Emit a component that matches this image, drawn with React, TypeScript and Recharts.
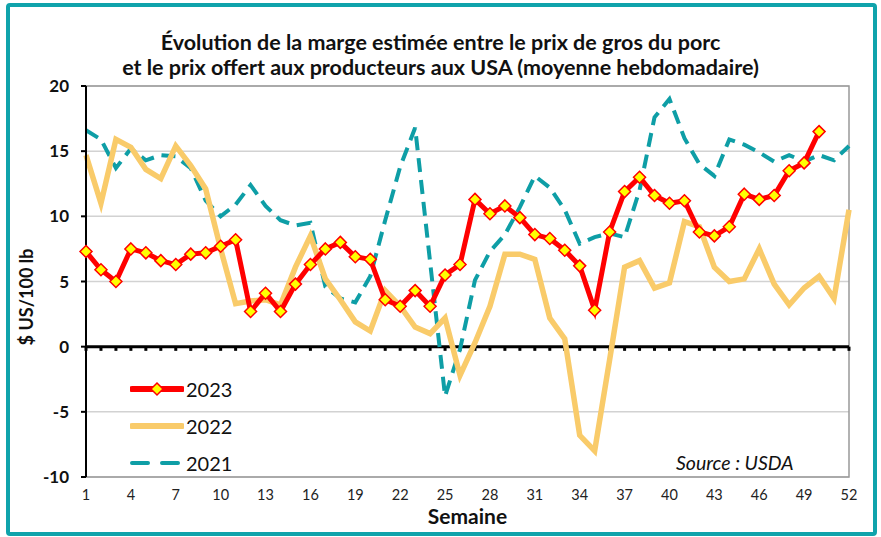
// @ts-nocheck
import { LineChart, Line, XAxis, YAxis, CartesianGrid, ReferenceLine, ReferenceArea, Legend } from 'recharts'

const weeks = [1, 2, 3, 4, 5, 6, 7, 8, 9, 10, 11, 12, 13, 14, 15, 16, 17, 18, 19, 20, 21, 22, 23, 24, 25, 26,
  27, 28, 29, 30, 31, 32, 33, 34, 35, 36, 37, 38, 39, 40, 41, 42, 43, 44, 45, 46, 47, 48, 49, 50, 51, 52]

const xTicks = [1, 4, 7, 10, 13, 16, 19, 22, 25, 28, 31, 34, 37, 40, 43, 46, 49, 52]
const yTicks = [-10, -5, 0, 5, 10, 15, 20]

// 2023 stops at week 50
const y2023 = [7.3, 5.9, 5.0, 7.5, 7.2, 6.6, 6.3, 7.1, 7.2, 7.7, 8.2, 2.7, 4.1, 2.7, 4.8, 6.3, 7.5, 8.0, 6.9, 6.7,
  3.6, 3.1, 4.3, 3.1, 5.5, 6.3, 11.3, 10.2, 10.8, 9.9, 8.6, 8.3, 7.4, 6.2, 2.8, 8.8, 11.9, 13.0, 11.6, 11.0,
  11.2, 8.8, 8.5, 9.2, 11.7, 11.3, 11.6, 13.5, 14.1, 16.5]

const y2022 = [14.7, 11.0, 15.9, 15.3, 13.6, 12.9, 15.4, 13.9, 12.1, 7.5, 3.3, 3.5, 3.6, 3.2, 6.1, 8.5, 5.2, 3.6,
  1.9, 1.2, 4.3, 3.1, 1.5, 1.0, 2.2, -2.2, 0.3, 3.1, 7.1, 7.1, 6.7, 2.2, 0.6, -6.8, -8.0, -1.0, 6.1, 6.6, 4.5,
  4.9, 9.6, 9.2, 6.1, 5.0, 5.2, 7.5, 4.8, 3.2, 4.5, 5.4, 3.7, 10.5]

const y2021 = [16.6, 15.9, 13.7, 15.2, 14.3, 14.7, 14.6, 13.7, 11.2, 10.0, 10.9, 12.4, 10.8, 9.7, 9.3, 9.5, 4.6,
  3.7, 3.4, 5.4, 9.7, 13.8, 16.8, 6.5, -3.8, -0.2, 5.1, 7.3, 8.6, 10.7, 13.1, 12.2, 10.5, 7.9, 8.4, 8.7, 8.4,
  12.0, 17.6, 19.0, 16.0, 14.0, 13.1, 15.9, 15.5, 14.9, 14.2, 14.7, 14.2, 14.7, 14.3, 15.4]

const rows = weeks.map((w, i) => ({
  week: w,
  y2023: i < y2023.length ? y2023[i] : null,
  y2022: y2022[i],
  y2021: y2021[i],
}))

const FONT = 'Lato, "Open Sans", sans-serif'
const RED = '#ff0000'
const GOLD = '#f9cb6a'
const TEAL = '#0e9ea6'

function Diamond({ cx, cy, r = 6 }) {
  if (cx == null || cy == null) return null
  return (
    <polygon
      points={`${cx},${cy - r} ${cx + r},${cy} ${cx},${cy + r} ${cx - r},${cy}`}
      fill="#ffff00" stroke={RED} strokeWidth={1.5}
    />
  )
}

const legendItems = [
  { name: '2023', color: RED, width: 6, dash: undefined, marker: true },
  { name: '2022', color: GOLD, width: 6, dash: undefined, marker: false },
  { name: '2021', color: TEAL, width: 4, dash: '16 14', marker: false },
]

function LegendBox() {
  return (
    <div style={{ fontFamily: FONT }}>
      {legendItems.map(it => (
        <div key={it.name} style={{ display: 'flex', alignItems: 'center', height: 37 }}>
          <svg width={54} height={16}>
            <line x1={2} x2={52} y1={8} y2={8} stroke={it.color} strokeWidth={it.width}
              strokeDasharray={it.dash} strokeLinecap="round" />
            {it.marker && <Diamond cx={27} cy={8} r={6} />}
          </svg>
          <span style={{ fontSize: 20, color: '#111', marginLeft: 2 }}>{it.name}</span>
        </div>
      ))}
    </div>
  )
}

export default function App() {
  return (
    <div style={{ position: 'absolute', left: 0, top: 0, width: 881, height: 537, background: '#fff', fontFamily: FONT }}>
      <div style={{
        position: 'absolute', left: 6, top: 3, width: 863, height: 525,
        border: '4px solid #0fa3ab', borderRadius: 4,
      }} />
      <div style={{
        position: 'absolute', left: 0, top: 30, width: 881, textAlign: 'center',
        fontWeight: 'bold', fontSize: 21.5, lineHeight: '25px', color: '#111',
      }}>
        <div>Évolution de la marge estimée entre le prix de gros du porc</div>
        <div>et le prix offert aux producteurs aux USA (moyenne hebdomadaire)</div>
      </div>
      <div style={{ position: 'absolute', left: 0, top: 0 }}>
        <LineChart width={881} height={537} data={rows} margin={{ top: 86, right: 32, left: 40, bottom: 10 }}>
          <CartesianGrid vertical={false} stroke="#d2d2d2" strokeWidth={1.5} />
          <ReferenceArea x1={1} x2={52} y1={-10} y2={20} fill="none" fillOpacity={0} stroke="#999" strokeWidth={1.5} />
          <XAxis
            dataKey="week" type="number" domain={[1, 52]} ticks={xTicks} interval={0}
            height={50} axisLine={false} tickLine={false} tickSize={6} tickMargin={7}
            tick={{ fontSize: 14.5, fill: '#222', fontFamily: FONT }}
            label={({ viewBox }) => (
              <text x={viewBox.x + viewBox.width / 2} y={524} textAnchor="middle"
                fontSize={21} fontWeight="bold" fill="#111" fontFamily={FONT}>Semaine</text>
            )}
          />
          <YAxis
            domain={[-10, 20]} ticks={yTicks} interval={0} width={46}
            axisLine={{ stroke: '#000', strokeWidth: 2 }} tickLine={{ stroke: '#000', strokeWidth: 2 }}
            tickSize={5} tickMargin={12}
            tick={{ fontSize: 17, fontWeight: 'bold', fill: '#111', fontFamily: FONT }}
            label={() => (
              <text x={0} y={0} transform="translate(33,297) rotate(-90)" textAnchor="middle"
                fontSize={18} fontWeight="bold" fill="#111" fontFamily={FONT}>$ US/100 lb</text>
            )}
          />
          <ReferenceLine y={0} stroke="#000" strokeWidth={3} />
          {weeks.map(w => (
            <ReferenceLine key={w} segment={[{ x: w, y: 0 }, { x: w, y: -0.32 }]} stroke="#000" strokeWidth={3} />
          ))}
          <Line type="linear" dataKey="y2021" name="2021" stroke={TEAL} strokeWidth={4}
            strokeDasharray="14 8" dot={false} isAnimationActive={false} />
          <Line type="linear" dataKey="y2022" name="2022" stroke={GOLD} strokeWidth={5.5}
            dot={false} isAnimationActive={false} />
          <Line type="linear" dataKey="y2023" name="2023" stroke={RED} strokeWidth={5}
            dot={(p) => <Diamond key={p.index} cx={p.cx} cy={p.cy} />} isAnimationActive={false} />
          <Legend layout="vertical" align="center" verticalAlign="middle" content={() => <LegendBox />}
            wrapperStyle={{ left: 130, top: 370, width: 120 }} />
        </LineChart>
      </div>
      <div style={{
        position: 'absolute', left: 676, top: 451, fontStyle: 'italic', fontSize: 19.5, color: '#111',
      }}>Source : USDA</div>
    </div>
  )
}
